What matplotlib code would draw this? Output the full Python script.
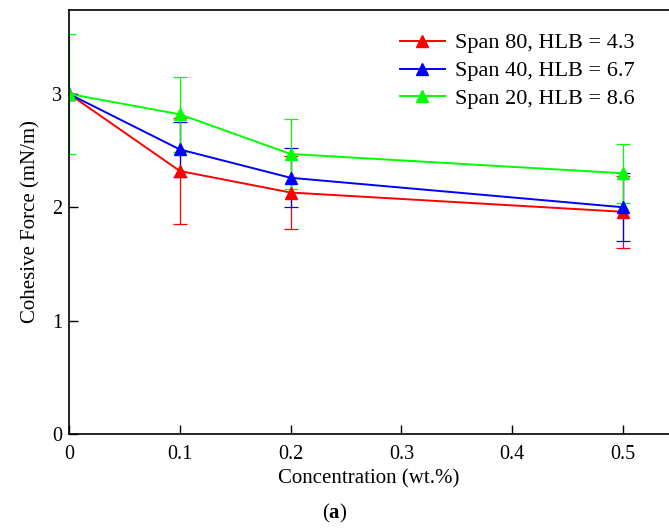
import matplotlib
matplotlib.use("Agg")
import matplotlib.pyplot as plt

plt.rcParams["font.family"] = ["Liberation Serif", "DejaVu Serif"]
plt.rcParams["mathtext.fontset"] = "custom"
plt.rcParams["mathtext.rm"] = "Liberation Serif"
plt.rcParams["mathtext.bf"] = "Liberation Serif:bold"

# --- data ---
conc = [0, 0.1, 0.2, 0.5]
span80 = [3.0, 2.32, 2.13, 1.96]
span80_err = [0.0, 0.47, 0.32, 0.32]
span40 = [3.0, 2.51, 2.26, 2.00]
span40_err = [0.0, 0.24, 0.26, 0.30]
span20 = [3.0, 2.82, 2.47, 2.30]
span20_err = [0.53, 0.33, 0.31, 0.26]

labels = ["Span 80, HLB = 4.3", "Span 40, HLB = 6.7", "Span 20, HLB = 8.6"]
colors = ["#ff0000", "#0000ff", "#00ff00"]

fig = plt.figure(figsize=(6.69, 5.32), dpi=100)
ax = fig.add_axes([69 / 669, 98 / 532, 600 / 669, 424 / 532])

for y, e, lab, c in zip([span80, span40, span20],
                        [span80_err, span40_err, span20_err], labels, colors):
    ax.errorbar(conc, y, yerr=e, color=c, marker="^", markersize=8,
                linewidth=1.4, elinewidth=0.9, capsize=5, capthick=0.9,
                label=lab)

ax.set_xlim(0, 0.5415)
ax.set_ylim(0, 3.74)
ax.set_xticks([0, 0.1, 0.2, 0.3, 0.4, 0.5])
ax.set_xticklabels(["0", "0.1", "0.2", "0.3", "0.4", "0.5"])
ax.set_yticks([0, 1, 2, 3])
ax.tick_params(direction="in", length=6.5, width=1, labelsize=14.5, pad=8)
ax.tick_params(axis="y", pad=5)
for s in ["left", "bottom", "top"]:
    ax.spines[s].set_linewidth(1.2)
ax.spines["right"].set_visible(False)

ax.set_xlabel("Concentration (wt.%)", fontsize=15, labelpad=4)
ax.set_ylabel("Cohesive Force (mN/m)", fontsize=15, labelpad=8)

handles, labs = ax.get_legend_handles_labels()
handles = [h[0] for h in handles]
ax.legend(handles, labs, loc="upper left", bbox_to_anchor=(0.552, 0.946),
          frameon=False, fontsize=16, handlelength=2.0, handletextpad=0.45,
          labelspacing=0.33, borderaxespad=0, borderpad=0)

fig.text(0.5, 19 / 532, r"($\mathbf{a}$)", ha="center", va="center",
         fontsize=15)

fig.savefig("out.png", dpi=100)
